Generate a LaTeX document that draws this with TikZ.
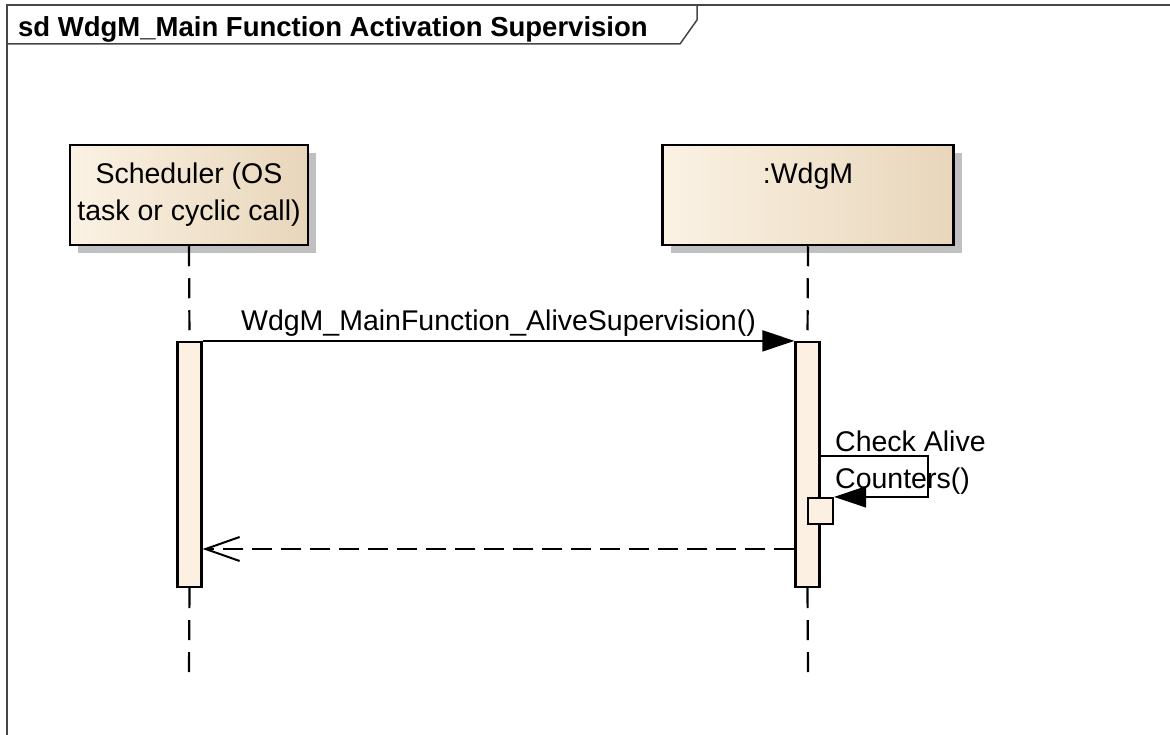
\documentclass[tikz,border=0pt]{standalone}
\usepackage{fontspec}
\setmainfont{Liberation Sans}
\usetikzlibrary{positioning,arrows.meta,shadows}
\definecolor{headleft}{RGB}{251,242,228}
\definecolor{headright}{RGB}{232,214,187}
\definecolor{barfill}{RGB}{251,240,226}
\definecolor{framecol}{RGB}{70,70,70}
\definecolor{shadowcol}{RGB}{192,192,192}
\tikzset{
  lifehead/.style={draw, line width=2.5pt, minimum height=100pt,
    left color=headleft, middle color=headleft, right color=headright,
    drop shadow={shadow xshift=8pt, shadow yshift=-8pt, fill=shadowcol, opacity=1}},
  headtext/.style={inner sep=0pt, align=center},
  actbar/.style={draw, line width=2.2pt, fill=barfill, minimum width=24pt, inner sep=0pt},
  lifeline/.style={line width=2.2pt, dash pattern=on 20pt off 12pt},
  msg/.style={line width=1.8pt, -{Triangle[length=32pt,width=21pt]}},
  retmsg/.style={line width=1.8pt, dash pattern=on 20pt off 9pt, -{Straight Barb[length=34pt,width=24pt,line width=2pt]}}
}
\begin{document}
\begin{tikzpicture}[x=1pt,y=-1pt,font=\fontsize{28.5}{37}\selectfont]
\useasboundingbox (0,0) rectangle (1170,735);

% Frame with its header
\draw[framecol, line width=1.5pt] (7,745) -- (7,5) -- (1180,5);
\draw[framecol, line width=1.5pt] (7,44) -- (680,44) -- (697,20) -- (697,5);
\node[anchor=west, inner sep=0pt, font=\bfseries\fontsize{27.5}{30}\selectfont] (title) at (18,29) {sd WdgM\_Main Function Activation Supervision};

% Lifeline heads
\node[lifehead, minimum width=238pt] (sched) at (189,195) {};
\node[headtext, below=19pt of sched.north] (schedtext) {Scheduler (OS\\task or cyclic call)};
\node[lifehead, minimum width=291pt] (wdgm) at (808,195) {};
\node[headtext, below=19pt of wdgm.north] (wdgmtext) {:WdgM};

% Activation bars
\node[actbar, minimum height=245pt] (schedbar) at (189.5,464.5) {};
\node[actbar, minimum height=245pt] (wdgmbar) at (807.5,464.5) {};
\node[actbar, minimum width=25pt, minimum height=26pt] (selfbox) at (820.5,511) {};

% Lifelines
\coordinate (schedend) at (189,672);
\coordinate (wdgmend) at (808,672);
\draw[lifeline] (sched.south) -- (schedbar.north);
\draw[lifeline] (schedbar.south) -- (schedend);
\draw[lifeline] (wdgm.south) -- (wdgmbar.north);
\draw[lifeline] (wdgmbar.south) -- (wdgmend);

% Call
\draw[msg] (schedbar.north east) -- (wdgmbar.north west)
  node[midway, above=4pt, inner sep=0pt] (calltext) {WdgM\_MainFunction\_AliveSupervision()};

% Self call
\coordinate (selfturn) at (928,456);
\draw[msg] (wdgmbar.east |- selfturn) -- (selfturn) -- (selfturn |- selfbox.north east) -- (selfbox.north east);
\node[anchor=north west, inner sep=0pt, align=left] (selftext) at (835,431) {Check Alive\\Counters()};

% Return
\coordinate (retlevel) at (500,549);
\draw[retmsg] (wdgmbar.west |- retlevel) -- (schedbar.east |- retlevel);
\end{tikzpicture}
\end{document}
